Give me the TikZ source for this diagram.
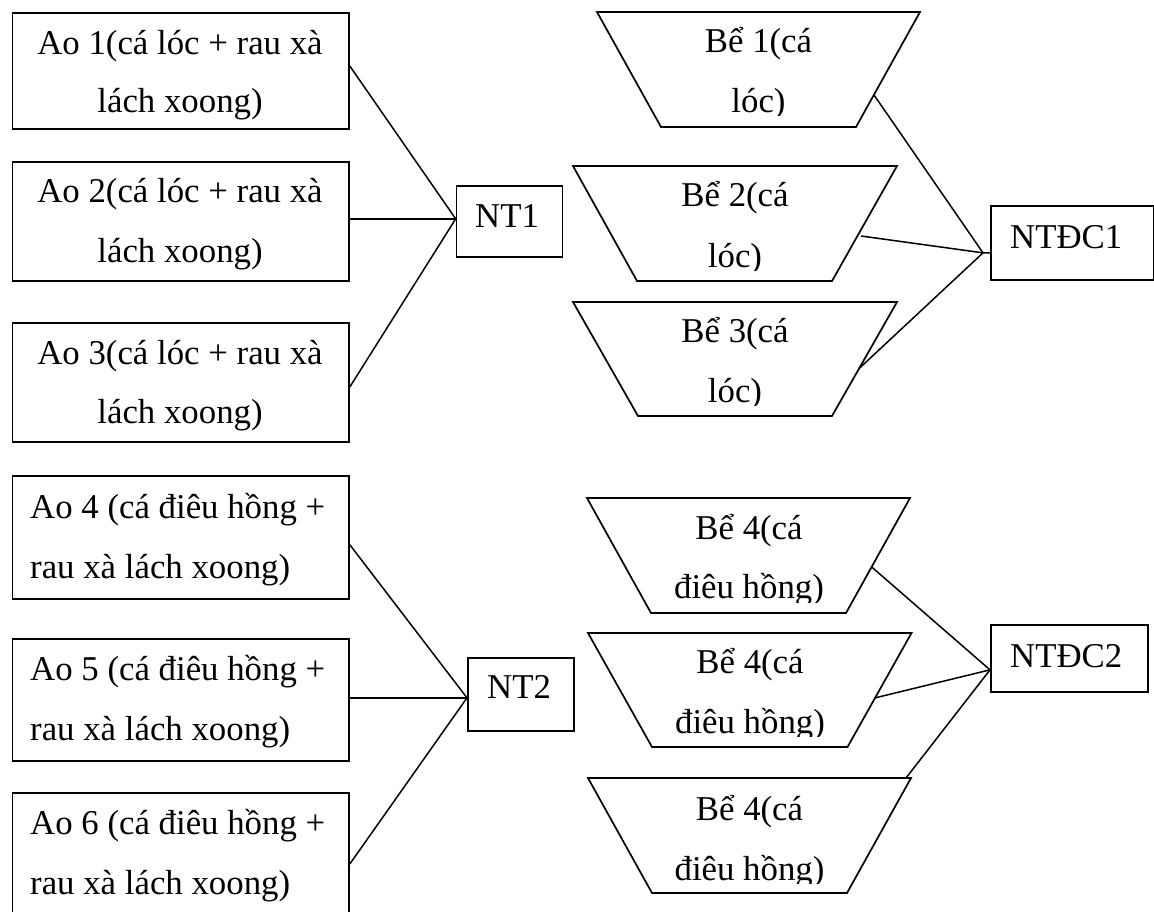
\documentclass[tikz,border=0pt]{standalone}
\usepackage{fontspec}
\setmainfont{Liberation Serif}
\begin{document}
\begin{tikzpicture}[x=1pt,y=-1pt,
  box/.style={draw, line width=1.7pt, anchor=north west, inner sep=0pt},
  txt/.style={font=\fontsize{34.8}{40}\selectfont, inner sep=0pt},
  conn/.style={line width=1.5pt},
  tank/.style={draw, line width=1.7pt, line join=miter}]
\useasboundingbox (0,0) rectangle (1154,912);
\clip (0,0) rectangle (1154,912);

% ---- left boxes (ponds)
\node[box, minimum width=336.5pt, minimum height=116pt] (ao1) at (11.7,12.3) {};
\node[box, minimum width=336.5pt, minimum height=119pt] (ao2) at (11.7,161) {};
\node[box, minimum width=336.5pt, minimum height=119pt] (ao3) at (11.7,322) {};
\node[box, minimum width=336.5pt, minimum height=123pt] (ao4) at (11.7,475) {};
\node[box, minimum width=336.5pt, minimum height=122pt] (ao5) at (11.7,638) {};
\node[box, minimum width=336.5pt, minimum height=133pt] (ao6) at (11.7,792) {};

\node[txt, anchor=base] (ao1a) at (180,55) {Ao 1(cá lóc + rau xà};
\node[txt, anchor=base] (ao1b) at (180,113) {lách xoong)};
\node[txt, anchor=base] (ao2a) at (180,203) {Ao 2(cá lóc + rau xà};
\node[txt, anchor=base] (ao2b) at (180,262) {lách xoong)};
\node[txt, anchor=base] (ao3a) at (180,364) {Ao 3(cá lóc + rau xà};
\node[txt, anchor=base] (ao3b) at (180,423) {lách xoong)};
\node[txt, anchor=base west] (ao4a) at (30,518) {Ao 4 (cá điêu hồng +};
\node[txt, anchor=base west] (ao4b) at (30,578) {rau xà lách xoong)};
\node[txt, anchor=base west] (ao5a) at (30,680) {Ao 5 (cá điêu hồng +};
\node[txt, anchor=base west] (ao5b) at (30,740) {rau xà lách xoong)};
\node[txt, anchor=base west] (ao6a) at (30,834) {Ao 6 (cá điêu hồng +};
\node[txt, anchor=base west] (ao6b) at (30,894) {rau xà lách xoong)};

% ---- collector boxes
\node[box, minimum width=106pt, minimum height=71pt] (nt1) at (455.7,185) {};
\node[box, minimum width=106pt, minimum height=73pt] (nt2) at (467,657) {};
\node[box, minimum width=162.5pt, minimum height=74pt] (ntdc1) at (990,205) {};
\node[box, minimum width=157pt, minimum height=67pt] (ntdc2) at (990,624) {};
\node[txt, anchor=base west] (nt1t) at (475,227.5) {NT1};
\node[txt, anchor=base west] (nt2t) at (487,698) {NT2};
\node[txt, anchor=base west] (ntdc1t) at (1010,248) {NTĐC1};
\node[txt, anchor=base west] (ntdc2t) at (1010,667) {NTĐC2};

% ---- tanks (trapezoids)
\draw[tank] (597,12) -- (920,12) -- (856,127) -- (661,127) -- cycle;
\draw[tank] (573,166) -- (897,166) -- (832,281) -- (637,281) -- cycle;
\draw[tank] (573,302) -- (897,302) -- (832,416) -- (638,416) -- cycle;
\draw[tank] (587,498) -- (910,498) -- (846,613) -- (651,613) -- cycle;
\draw[tank] (588,633) -- (911.5,633) -- (847.5,747) -- (652,747) -- cycle;
\draw[tank] (588,778) -- (911,778) -- (847,893) -- (652,893) -- cycle;

\node[txt, anchor=base] (be1a) at (758.5,53) {Bể 1(cá};
\begin{scope}\clip (560,60) rectangle (930,116);
\node[txt, anchor=base] (be1b) at (758.5,113) {lóc)};
\end{scope}
\node[txt, anchor=base] (be2a) at (735,207) {Bể 2(cá};
\begin{scope}\clip (560,214) rectangle (930,270);
\node[txt, anchor=base] (be2b) at (735,267) {lóc)};
\end{scope}
\node[txt, anchor=base] (be3a) at (735,342) {Bể 3(cá};
\begin{scope}\clip (560,349) rectangle (930,405);
\node[txt, anchor=base] (be3b) at (735,402) {lóc)};
\end{scope}
\node[txt, anchor=base] (be4a1) at (749,539) {Bể 4(cá};
\begin{scope}\clip (560,546) rectangle (930,602);
\node[txt, anchor=base] (be4a2) at (749,598) {điêu hồng)};
\end{scope}
\node[txt, anchor=base] (be4b1) at (750,673) {Bể 4(cá};
\begin{scope}\clip (560,680) rectangle (930,736);
\node[txt, anchor=base] (be4b2) at (750,733) {điêu hồng)};
\end{scope}
\node[txt, anchor=base] (be4c1) at (749.5,820) {Bể 4(cá};
\begin{scope}\clip (560,827) rectangle (930,883);
\node[txt, anchor=base] (be4c2) at (749.5,880) {điêu hồng)};
\end{scope}

% connection points on tanks
\coordinate (be1r) at (874,95);
\coordinate (be2r) at (861,236);
\coordinate (be3r) at (858.6,369);
\coordinate (be4ar) at (871.7,567);
\coordinate (be4br) at (874.6,698);
\coordinate (be4cr) at (906,778);
\coordinate (j1) at ([xshift=-7pt,yshift=-10pt]ntdc1.west);

% ---- connectors
\draw[conn] ([yshift=5pt]ao1.east) -- ([yshift=2.5pt]nt1.west);
\draw[conn] ([yshift=2.5pt]ao2.east) -- ([yshift=2.5pt]nt1.west);
\draw[conn] ([yshift=-4.5pt]ao3.east) -- ([yshift=2.5pt]nt1.west);
\draw[conn] ([yshift=-7.5pt]ao4.east) -- ([yshift=-3.5pt]nt2.west);
\draw[conn] ([yshift=2pt]ao5.east) -- ([yshift=-3.5pt]nt2.west);
\draw[conn] ([yshift=-4.5pt]ao6.east) -- ([yshift=-3.5pt]nt2.west);

\draw[conn] (be1r) -- (j1) -- ([yshift=-10pt]ntdc1.west);
\draw[conn] (be2r) -- (j1);
\draw[conn] (be3r) -- (j1);
\draw[conn] (be4ar) -- ([yshift=-11.5pt]ntdc2.west);
\draw[conn] (be4br) -- ([yshift=-11.5pt]ntdc2.west);
\draw[conn] (be4cr) -- ([yshift=-11.5pt]ntdc2.west);
\end{tikzpicture}
\end{document}
